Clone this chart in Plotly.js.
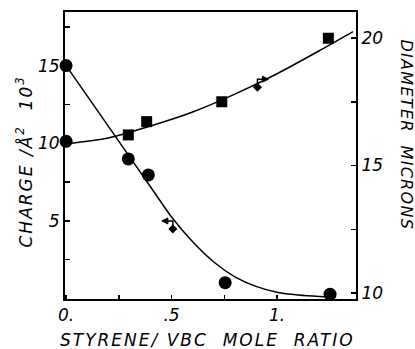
<!DOCTYPE html>
<html>
<head>
<meta charset="utf-8">
<script src="https://cdn.plot.ly/plotly-3.0.1.min.js"></script>
<style>
html,body{margin:0;padding:0;background:#fff;}
#chart{width:415px;height:349px;}
#chart .annotation text{letter-spacing:2px;}
#chart .annotation text[data-unformatted^="DIAMETER"]{letter-spacing:1.3px;}
</style>
</head>
<body>
<div id="chart"></div>
<script>
// Measured points: charge (left axis) vs mole ratio
const chargeX = [0, 0.295, 0.39, 0.754, 1.251];
const chargeY = [15.0, 8.99, 7.96, 1.02, 0.28];
// Measured points: diameter (right axis)
const diamX = [0, 0.295, 0.382, 0.738, 1.243];
const diamY = [15.95, 16.2, 16.72, 17.5, 19.99];
// Smooth fitted curves
const chargeCurveX = [0, 0.2, 0.4, 0.5, 0.6, 0.7, 0.8, 0.9, 1.0, 1.1, 1.2, 1.28];
const chargeCurveY = [15.0, 11.1, 7.2, 5.25, 3.65, 2.35, 1.4, 0.78, 0.4, 0.22, 0.13, 0.1];
const diamCurveX = [0, 0.2, 0.4, 0.6, 0.8, 1.0, 1.2, 1.36];
const diamCurveY = [15.85, 16.08, 16.55, 17.1, 17.8, 18.6, 19.5, 20.25];
// Arrow key markers (which axis each curve belongs to)
const keyChargeX = [0.506], keyChargeY = [4.48];
const keyDiamX = [0.907], keyDiamY = [18.07];
// Tick labels
const xTickVals = [0, 0.5, 1.0];
const xTickText = ['0.', '.5', '1.'];
const yTickVals = [5, 10, 15];
const yTickText = ['5', '10', '15'];
const y2TickVals = [10, 15, 20];
const y2TickText = ['10', '15', '20'];
// Titles
const xTitle = 'STYRENE/ VBC  MOLE  RATIO';
const yTitle = 'CHARGE /Å<sup>2</sup>  10<sup>3</sup>';
const y2Title = 'DIAMETER  MICRONS';

const FONT = 'DejaVu Sans';
const tickFont = {family: FONT, size: 17, color: '#000', style: 'italic'};
const titleFont = {family: FONT, size: 17, color: '#000', style: 'italic'};

const traces = [
  {x: chargeCurveX, y: chargeCurveY, mode: 'lines', line: {color: '#000', width: 1.5, shape: 'spline', smoothing: 0.7}, yaxis: 'y', hoverinfo: 'skip'},
  {x: diamCurveX, y: diamCurveY, mode: 'lines', line: {color: '#000', width: 1.5, shape: 'spline', smoothing: 0.7}, yaxis: 'y2', hoverinfo: 'skip'},
  {x: chargeX, y: chargeY, mode: 'markers', marker: {symbol: 'circle', size: 13, color: '#000'}, yaxis: 'y', cliponaxis: false},
  {x: diamX.slice(1), y: diamY.slice(1), mode: 'markers', marker: {symbol: 'square', size: 11, color: '#000'}, yaxis: 'y2', cliponaxis: false},
  {x: diamX.slice(0, 1), y: diamY.slice(0, 1), mode: 'markers', marker: {symbol: 'circle', size: 13, color: '#000'}, yaxis: 'y2', cliponaxis: false},
  {x: keyChargeX, y: keyChargeY, mode: 'markers', marker: {symbol: 'diamond', size: 7, color: '#000'}, yaxis: 'y'},
  {x: keyDiamX, y: keyDiamY, mode: 'markers', marker: {symbol: 'diamond', size: 7, color: '#000'}, yaxis: 'y2'}
];

function arrowShapes(xv, yv, yref, dir) {
  const base = {type: 'path', xref: 'x', yref: yref, xsizemode: 'pixel', ysizemode: 'pixel',
                xanchor: xv, yanchor: yv, layer: 'above'};
  const d = dir;
  return [
    Object.assign({}, base, {path: `M0,0 L0,8 L${9*d},8`, line: {color: '#000', width: 1.5}}),
    Object.assign({}, base, {path: `M${11*d},8 L${5*d},11 L${5*d},5 Z`, line: {color: '#000', width: 1}, fillcolor: '#000'})
  ];
}

const shapes = [].concat(
  arrowShapes(keyChargeX[0], keyChargeY[0], 'y', -1),
  arrowShapes(keyDiamX[0], keyDiamY[0], 'y2', 1)
);

const annotations = [
  {xref: 'paper', yref: 'paper', x: 0, y: 0.5, xanchor: 'center', yanchor: 'middle', xshift: -41, yshift: -6,
   textangle: -90, showarrow: false, text: yTitle, font: titleFont},
  {xref: 'paper', yref: 'paper', x: 1, y: 0.5, xanchor: 'center', yanchor: 'middle', xshift: 50, yshift: 21,
   textangle: 90, showarrow: false, text: y2Title, font: {family: FONT, size: 16, color: '#000', style: 'italic'}},
  {xref: 'paper', yref: 'paper', x: 0.5, y: 0, xanchor: 'center', yanchor: 'middle', xshift: -3, yshift: -41,
   showarrow: false, text: xTitle, font: titleFont}
];

const layout = {
  width: 415, height: 349,
  margin: {l: 65, r: 59, t: 12, b: 50, pad: 0},
  paper_bgcolor: '#fff', plot_bgcolor: '#fff',
  showlegend: false,
  xaxis: {
    range: [-0.005, 1.374], showgrid: false, zeroline: false,
    showline: true, linecolor: '#000', linewidth: 2, mirror: true,
    tickmode: 'array', tickvals: xTickVals, ticktext: xTickText,
    ticks: 'inside', ticklen: 4, tickwidth: 1.5, tickcolor: '#000',
    minor: {tickmode: 'linear', tick0: 0, dtick: 0.25, ticks: 'inside', ticklen: 4, tickwidth: 1.5, tickcolor: '#000'},
    tickfont: tickFont
  },
  yaxis: {
    range: [-0.03, 18.45], showgrid: false, zeroline: false,
    showline: true, linecolor: '#000', linewidth: 2,
    tickmode: 'array', tickvals: yTickVals, ticktext: yTickText,
    ticks: 'inside', ticklen: 5, tickwidth: 1.5, tickcolor: '#000',
    minor: {tickmode: 'linear', tick0: 0, dtick: 2.5, ticks: 'inside', ticklen: 5, tickwidth: 1.5, tickcolor: '#000'},
    tickfont: tickFont
  },
  yaxis2: {
    range: [9.765, 21.02], overlaying: 'y', side: 'right', showgrid: false, zeroline: false,
    showline: true, linecolor: '#000', linewidth: 2,
    tickmode: 'array', tickvals: y2TickVals, ticktext: y2TickText,
    ticks: 'inside', ticklen: 5, tickwidth: 1.5, tickcolor: '#000',
    minor: {tickmode: 'linear', tick0: 10, dtick: 2.5, ticks: 'inside', ticklen: 5, tickwidth: 1.5, tickcolor: '#000'},
    tickfont: tickFont
  },
  shapes: shapes,
  annotations: annotations
};

Plotly.newPlot('chart', traces, layout, {staticPlot: true, displayModeBar: false});
</script>
</body>
</html>
